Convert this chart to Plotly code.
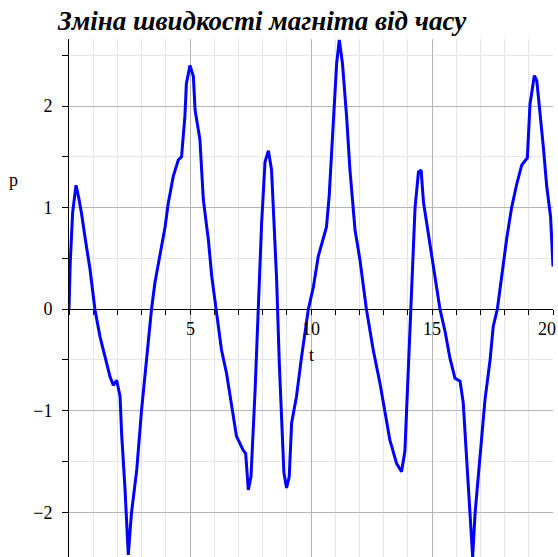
import plotly.graph_objects as go

# Time samples (s) and magnet velocity p
t = [0.00, 0.05, 0.15, 0.29, 0.40, 0.52, 0.66, 0.87, 1.07, 1.28, 1.49, 1.69, 1.83, 1.97,
     2.11, 2.18, 2.31, 2.45, 2.58, 2.80, 3.00, 3.21, 3.41, 3.55, 3.76, 3.97, 4.10, 4.31,
     4.52, 4.65, 4.79, 4.85, 5.00, 5.14, 5.21, 5.41, 5.55, 5.76, 5.90, 6.07, 6.30, 6.51,
     6.72, 6.92, 7.20, 7.30, 7.41, 7.52, 7.69, 7.82, 7.96, 8.10, 8.24, 8.37, 8.44, 8.58,
     8.69, 8.79, 8.88, 8.99, 9.10, 9.20, 9.40, 9.61, 9.89, 10.10, 10.30, 10.64, 10.75,
     10.92, 11.06, 11.17, 11.30, 11.47, 11.61, 11.82, 12.02, 12.29, 12.57, 12.85, 13.06,
     13.26, 13.54, 13.74, 13.88, 13.98, 14.12, 14.23, 14.30, 14.44, 14.55, 14.65, 14.78,
     14.99, 15.19, 15.33, 15.54, 15.74, 15.95, 16.16, 16.29, 16.43, 16.57, 16.68, 16.78,
     16.98, 17.19, 17.40, 17.53, 17.70, 17.81, 17.95, 18.09, 18.29, 18.50, 18.71, 18.94,
     19.05, 19.23, 19.33, 19.46, 19.60, 19.74, 19.90, 20.00]
p = [0.00, 0.45, 0.95, 1.22, 1.10, 0.94, 0.71, 0.39, 0.00, -0.27, -0.47, -0.66, -0.75, -0.70,
     -0.86, -1.25, -1.75, -2.42, -2.01, -1.58, -0.99, -0.47, 0.00, 0.26, 0.52, 0.81, 1.04, 1.31,
     1.47, 1.50, 1.90, 2.22, 2.40, 2.29, 1.96, 1.67, 1.08, 0.68, 0.32, 0.00, -0.40, -0.63,
     -0.96, -1.25, -1.39, -1.42, -1.78, -1.65, -0.80, 0.00, 0.85, 1.45, 1.56, 1.37, 1.01, 0.29,
     -0.53, -1.19, -1.61, -1.76, -1.65, -1.12, -0.86, -0.47, 0.00, 0.22, 0.52, 0.81, 1.11,
     1.83, 2.42, 2.65, 2.42, 1.90, 1.37, 0.78, 0.49, 0.00, -0.40, -0.73, -1.02,
     -1.29, -1.52, -1.60, -1.40, -0.80, 0.00, 0.62, 1.00, 1.35, 1.37, 1.05, 0.85,
     0.49, 0.22, 0.00, -0.22, -0.48, -0.68, -0.71, -0.92, -1.45, -1.95, -2.44, -2.01,
     -1.48, -0.89, -0.50, -0.17, 0.00, 0.21, 0.47, 0.70, 1.00, 1.23, 1.42, 1.49,
     2.02, 2.30, 2.25, 1.96, 1.60, 1.21, 0.91, 0.42]

x_ticks = [5, 10, 15, 20]
y_ticks = [-2, -1, 0, 1, 2]
x_range = [0, 20]
y_range = [-2.44, 2.66]

title_text = "Зміна швидкості магніта від часу"
serif = "Liberation Serif, Times New Roman, serif"
major_grid = "#b4b4b4"
minor_grid = "#e6e6e6"
tick_size = 18

fig = go.Figure(go.Scatter(x=t, y=p, mode="lines",
                           line=dict(color="#0000ff", width=3), hoverinfo="skip"))

# x axis sits on p = 0
x_axis_pos = (0 - y_range[0]) / (y_range[1] - y_range[0])

# labels of the x ticks are written as annotations; the last one is
# right-aligned to the page edge so it stays fully readable
x_tick_labels = []
for v in x_ticks:
    last = v == x_range[1]
    x_tick_labels.append(dict(
        text=str(v), xref="x", yref="y", x=v, y=0, yshift=-20,
        xshift=5 if last else 0, showarrow=False,
        xanchor="right" if last else "center", yanchor="middle",
        font=dict(family=serif, size=tick_size, color="black")))

fig.update_layout(
    width=558, height=557,
    margin=dict(l=69, r=5, t=39, b=0),
    paper_bgcolor="white", plot_bgcolor="white",
    showlegend=False,
    font=dict(family=serif, size=tick_size, color="black"),
    xaxis=dict(
        range=x_range, tickvals=x_ticks, ticks="outside", ticklen=5, tickwidth=1,
        tickcolor="black", showline=True, linecolor="black", linewidth=1,
        anchor="free", position=x_axis_pos, layer="below traces",
        showgrid=True, gridcolor=major_grid, gridwidth=1, zeroline=False,
        showticklabels=False,
        minor=dict(dtick=1, tick0=0, ticks="outside", ticklen=5, tickcolor="black",
                   showgrid=True, gridcolor=minor_grid, gridwidth=1),
    ),
    yaxis=dict(
        range=y_range, tickvals=y_ticks, ticks="outside", ticklen=6, tickwidth=1,
        tickcolor="black", showline=True, linecolor="black", linewidth=1,
        layer="below traces", showgrid=True, gridcolor=major_grid, gridwidth=1,
        zeroline=False, ticklabelstandoff=6,
        minor=dict(dtick=0.5, tick0=0, ticks="outside", ticklen=6, tickcolor="black",
                   showgrid=True, gridcolor=minor_grid, gridwidth=1),
    ),
    annotations=[
        dict(text="<b><i>" + title_text + "</i></b>", xref="paper", yref="paper",
             x=0.399, y=1.035, xanchor="center", yanchor="middle", showarrow=False,
             font=dict(family=serif, size=27, color="black")),
        dict(text="p", xref="paper", yref="y", x=-0.114, y=1.27, showarrow=False,
             xanchor="center", yanchor="middle", font=dict(family=serif, size=tick_size)),
        dict(text="t", xref="x", yref="y", x=10.0, y=-0.45, showarrow=False,
             xanchor="center", yanchor="middle", font=dict(family=serif, size=tick_size)),
    ] + x_tick_labels,
)

fig.write_html("out.html")
